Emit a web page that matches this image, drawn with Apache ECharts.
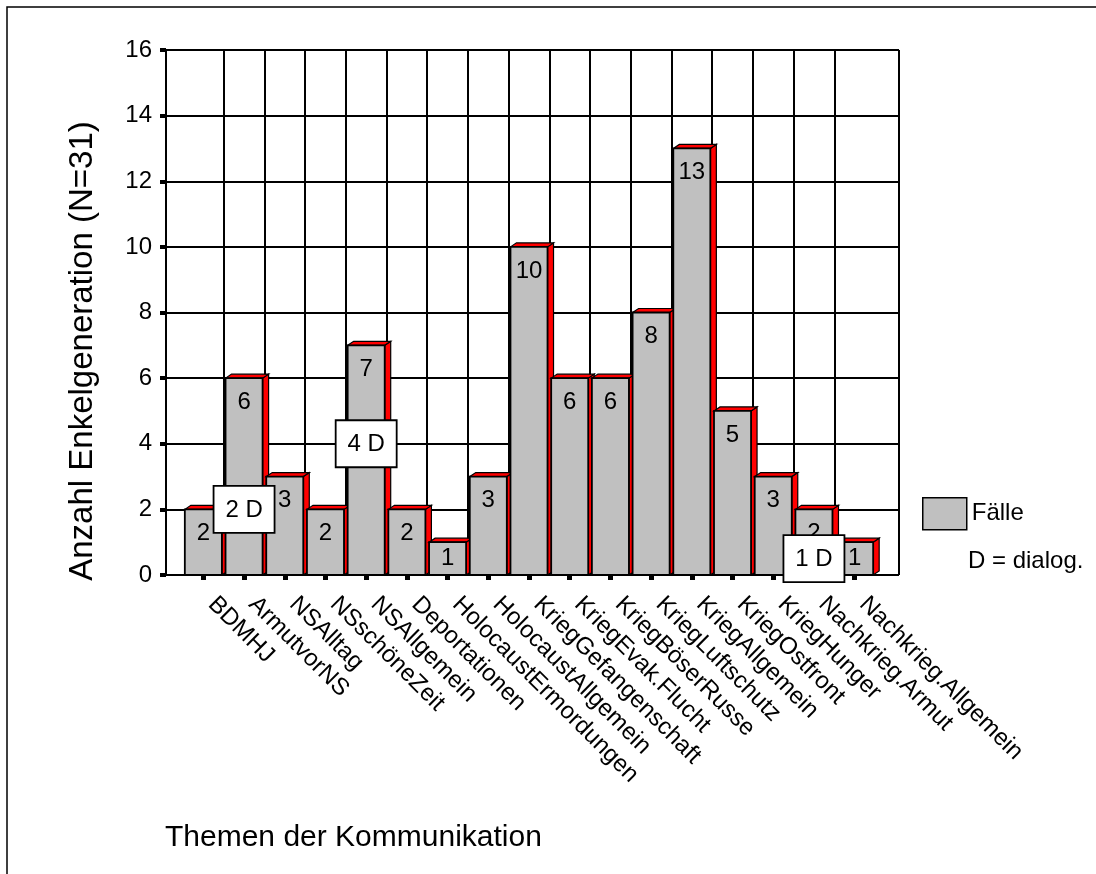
<!DOCTYPE html>
<html>
<head>
<meta charset="utf-8">
<script src="https://cdn.jsdelivr.net/npm/echarts@6/dist/echarts.min.js"></script>
<style>
  html, body { margin: 0; padding: 0; background: #fff; }
  #chart { width: 1096px; height: 874px; }
</style>
</head>
<body>
<div id="chart"></div>
<script>
const themen = ['BDMHJ', 'ArmutvorNS', 'NSAlltag', 'NSschöneZeit', 'NSAllgemein', 'Deportationen',
  'HolocaustErmordungen', 'HolocaustAllgemein', 'KriegGefangenschaft', 'KriegEvak.Flucht',
  'KriegBöserRusse', 'KriegLuftschutz', 'KriegAllgemein', 'KriegOstfront', 'KriegHunger',
  'Nachkrieg.Armut', 'Nachkrieg.Allgemein'];
const faelle = [2, 6, 3, 2, 7, 2, 1, 3, 10, 6, 6, 8, 13, 5, 3, 2, 1];
// dialog notes: category index, height on the value axis, text
const dialogThema = [1, 4, 15];
const dialogHoehe = [2, 4, 0.5];
const dialogText = ['2 D', '4 D', '1 D'];
const yTicks = [0, 16, 2];

const FONT = "'Liberation Sans', Arial, sans-serif";
const chart = echarts.init(document.getElementById('chart'));

function renderBar(params, api) {
  const v = api.value(1);
  const top = api.coord([api.value(0), v]);
  const base = api.coord([api.value(0), 0]);
  const w = api.size([1, 0])[0] * 0.91;
  const x0 = top[0] - w / 2, x1 = top[0] + w / 2;
  const dx = 6, dy = -4;
  const h = base[1] - top[1];
  return {
    type: 'group',
    children: [
      { type: 'polygon', shape: { points: [[x1, top[1]], [x1 + dx, top[1] + dy], [x1 + dx, base[1] + dy], [x1, base[1]]] },
        style: { fill: '#ff0000', stroke: '#000', lineWidth: 1.2 } },
      { type: 'polygon', shape: { points: [[x0, top[1]], [x0 + dx, top[1] + dy], [x1 + dx, top[1] + dy], [x1, top[1]]] },
        style: { fill: '#ff0000', stroke: '#000', lineWidth: 1.2 } },
      { type: 'rect', shape: { x: x0, y: top[1], width: w, height: h },
        style: { fill: '#c0c0c0', stroke: '#000', lineWidth: 1.8 } },
      { type: 'text', style: { text: String(v), x: top[0], y: top[1] + Math.min(24, h / 2),
        align: 'center', verticalAlign: 'middle', fontSize: 24, fontFamily: FONT, fill: '#000' } }
    ]
  };
}

function renderNote(params, api) {
  const c = api.coord([api.value(0), api.value(1)]);
  const bw = 61, bh = 47;
  return {
    type: 'group',
    children: [
      { type: 'rect', shape: { x: c[0] - bw / 2, y: c[1] - bh / 2, width: bw, height: bh },
        style: { fill: '#fff', stroke: '#000', lineWidth: 1.8 } },
      { type: 'text', style: { text: dialogText[params.dataIndex], x: c[0], y: c[1] + 1,
        align: 'center', verticalAlign: 'middle', fontSize: 24, fontFamily: FONT, fill: '#000' } }
    ]
  };
}

const option = {
  backgroundColor: '#fff',
  animation: false,
  textStyle: { fontFamily: FONT, color: '#000' },
  grid: [
    { left: 166, right: 197, top: 50, bottom: 299 },
    { left: 183, right: 221, top: 50, bottom: 299 }
  ],
  legend: {
    data: ['Fälle'],
    left: 917, top: 492,
    icon: 'rect', itemWidth: 44, itemHeight: 32,
    itemStyle: { color: '#c0c0c0', borderColor: '#000', borderWidth: 1.5 },
    textStyle: { fontSize: 24, fontFamily: FONT, color: '#000' }
  },
  xAxis: [
    { gridIndex: 0, type: 'value', min: 0, max: 1, interval: 1,
      axisLine: { show: false }, axisTick: { show: false }, axisLabel: { show: false },
      splitLine: { show: true, showMinLine: false, lineStyle: { color: '#000', width: 2 } } },
    { gridIndex: 1, type: 'category', data: themen,
      axisLine: { show: false },
      axisTick: { show: true, alignWithLabel: true, length: 5, lineStyle: { color: '#000', width: 5 } },
      axisLabel: { rotate: -45, fontSize: 24, fontFamily: FONT, color: '#000', margin: 17,
        padding: [0, 0, 0, 12], interval: 0 },
      splitLine: { show: true, showMinLine: false, showMaxLine: false, interval: 0, lineStyle: { color: '#000', width: 2 } } }
  ],
  yAxis: [
    { gridIndex: 0, type: 'value', min: yTicks[0], max: yTicks[1], interval: yTicks[2],
      axisLine: { show: true, lineStyle: { color: '#000', width: 2 } },
      axisTick: { show: true, length: 6, lineStyle: { color: '#000', width: 4 } },
      axisLabel: { fontSize: 24, fontFamily: FONT, color: '#000', margin: 14 },
      splitLine: { show: true, lineStyle: { color: '#000', width: 2 } } },
    { gridIndex: 1, type: 'value', min: yTicks[0], max: yTicks[1], interval: yTicks[2], show: false }
  ],
  series: [
    { name: 'Fälle', type: 'custom', xAxisIndex: 1, yAxisIndex: 1, z: 2,
      itemStyle: { color: '#c0c0c0' },
      renderItem: renderBar,
      encode: { x: 0, y: 1 },
      data: faelle.map((v, i) => [i, v]) },
    { name: 'dialog', type: 'custom', xAxisIndex: 1, yAxisIndex: 1, z: 3,
      renderItem: renderNote,
      encode: { x: 0, y: 1 },
      data: dialogThema.map((c, i) => [c, dialogHoehe[i]]) }
  ],
  graphic: [
    { type: 'rect', shape: { x: 7, y: 7, width: 1300, height: 1000 },
      style: { fill: 'none', stroke: '#000', lineWidth: 1.5 }, silent: true },
    { type: 'text', x: 83, y: 351, rotation: Math.PI / 2,
      style: { text: 'Anzahl Enkelgeneration (N=31)', align: 'center', verticalAlign: 'middle',
        fontSize: 33, fontFamily: FONT, fill: '#000' } },
    { type: 'text', x: 165, y: 838,
      style: { text: 'Themen der Kommunikation', align: 'left', verticalAlign: 'middle',
        fontSize: 30, fontFamily: FONT, fill: '#000' } },
    { type: 'text', x: 968, y: 561,
      style: { text: 'D = dialog.', align: 'left', verticalAlign: 'middle',
        fontSize: 24, fontFamily: FONT, fill: '#000' } }
  ]
};
chart.setOption(option);
</script>
</body>
</html>
